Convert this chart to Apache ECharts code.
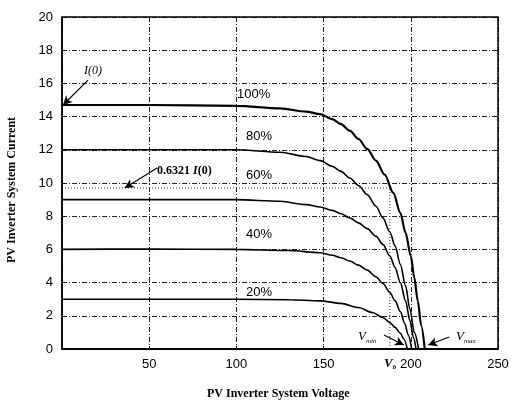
<!DOCTYPE html>
<html><head><meta charset="utf-8">
<script src="https://cdn.jsdelivr.net/npm/echarts@6/dist/echarts.min.js"></script>
<style>html,body{margin:0;padding:0;background:#fff}#c{width:512px;height:404px}</style>
</head><body><div id="c"></div>
<script>
const xTicks = [0, 50, 100, 150, 200, 250];
const yTicks = [0, 2, 4, 6, 8, 10, 12, 14, 16, 18, 20];
const curveNames = ['100%', '80%', '60%', '40%', '20%'];
const curve100 = [[0,14.7],[50,14.7],[100,14.65],[125,14.5],[140,14.3],[148,14.15],[155,13.85],[160,13.55],[165,13.15],[170,12.65],[175,12.05],[180,11.35],[185,10.5],[190,9.4],[194,8.2],[197,7.0],[200,5.6],[202,4.3],[204,2.9],[206,1.4],[208,0]];
const curve80 = [[0,12.0],[50,12.0],[100,12.0],[125,11.85],[140,11.6],[148,11.35],[155,11.0],[160,10.7],[165,10.3],[170,9.85],[175,9.3],[180,8.6],[184,7.9],[188,7.05],[191,6.2],[194,5.1],[197,3.8],[199.5,2.4],[202,1.0],[204.5,0]];
const curve60 = [[0,9.0],[50,9.0],[100,9.0],[125,8.9],[140,8.7],[148,8.55],[155,8.35],[160,8.15],[165,7.9],[170,7.6],[175,7.25],[180,6.8],[184,6.3],[188,5.6],[191,4.9],[194,4.0],[197,2.9],[199.5,1.7],[201.5,0.7],[203,0]];
const curve40 = [[0,6.0],[50,6.02],[100,6.0],[130,5.93],[148,5.8],[155,5.65],[160,5.5],[165,5.3],[170,5.05],[175,4.75],[180,4.35],[184,3.95],[188,3.4],[191,2.9],[194,2.25],[196.5,1.55],[198.5,0.85],[200.5,0]];
const curve20 = [[0,3.0],[50,3.0],[100,3.0],[130,2.97],[148,2.9],[160,2.75],[170,2.5],[178,2.2],[184,1.9],[188,1.6],[191,1.3],[194,0.95],[196,0.6],[198,0]];
const tauCurrent = 9.7;   // 0.6321 I(0) level
const vb = 188;           // V_b
const arrowI0 = [[14.9,16.2],[0.6,14.7]];
const arrowTau = [[54.5,10.9],[36,9.7]];
const arrowVmin = [[184.6,0.84],[196,0.24]];
const arrowVmax = [[222,0.72],[210,0.24]];

const curves = [curve100, curve80, curve60, curve40, curve20];
const widths = [2.2, 1.6, 1.6, 1.6, 1.6];

const chart = echarts.init(document.getElementById('c'), null, {renderer:'canvas'});
const series = curves.map((d,i)=>({
  name: curveNames[i], type:'line', data:d, showSymbol:false, symbol:'none',
  smooth:0.3, smoothMonotone:'x',
  lineStyle:{color:'#000', width:widths[i]}, z:5, silent:true
}));
function arrow(c){ return {type:'line', data:[], markLine:{silent:true, symbol:['none','arrow'], symbolSize:[7,9],
  lineStyle:{color:'#000', width:1.2, type:'solid'}, label:{show:false},
  data:[[{coord:c[0]},{coord:c[1]}]]}}; }
series.push({type:'line', data:[[0,tauCurrent],[vb,tauCurrent]], showSymbol:false, symbol:'none',
  lineStyle:{color:'#333', width:1, type:[1,2]}, z:3});
series.push({type:'line', data:[[vb,0],[vb,tauCurrent]], showSymbol:false, symbol:'none',
  lineStyle:{color:'#333', width:1, type:[1,2]}, z:3});
series.push(arrow(arrowI0), arrow(arrowTau), arrow(arrowVmin), arrow(arrowVmax));

const gridDash = [5,2,1,2];
chart.setOption({
  animation:false,
  grid:{left:62, right:14, top:17, bottom:55},
  xAxis:{type:'value', min:0, max:250, interval:50,
    axisLine:{show:true, onZero:false, lineStyle:{color:'#000', width:2}},
    axisTick:{show:true, inside:true, length:3, lineStyle:{color:'#000'}},
    axisLabel:{color:'#000', fontFamily:'Liberation Sans', fontSize:13, margin:9,
      formatter:v=> v===0 ? '' : String(v)},
    splitLine:{show:true, lineStyle:{color:'#222', width:1, type:gridDash}}},
  yAxis:{type:'value', min:0, max:20, interval:2,
    axisLine:{show:true, lineStyle:{color:'#000', width:1.5}},
    axisTick:{show:true, inside:true, length:3, lineStyle:{color:'#000'}},
    axisLabel:{color:'#000', fontFamily:'Liberation Sans', fontSize:13, margin:9},
    splitLine:{show:true, lineStyle:{color:'#222', width:1, type:gridDash}}},
  series:series,
  graphic:[
    {type:'rect', shape:{x:62, y:17, width:436, height:332}, style:{fill:'none', stroke:'#000', lineWidth:1.5}, silent:true, z:10},
    {type:'text', left:207, top:388, style:{text:'PV Inverter System Voltage', font:'bold 12px "Liberation Serif"', fill:'#000'}},
    {type:'text', x:12, y:263, rotation:Math.PI/2, style:{text:'PV Inverter System Current', font:'bold 12px "Liberation Serif"', fill:'#000', textVerticalAlign:'middle'}},
    {type:'text', x:237, y:88, style:{text:'100%', font:'13px "Liberation Sans"', fill:'#000'}},
    {type:'text', x:246, y:130, style:{text:'80%', font:'13px "Liberation Sans"', fill:'#000'}},
    {type:'text', x:246, y:169, style:{text:'60%', font:'13px "Liberation Sans"', fill:'#000'}},
    {type:'text', x:246, y:228, style:{text:'40%', font:'13px "Liberation Sans"', fill:'#000'}},
    {type:'text', x:246, y:286, style:{text:'20%', font:'13px "Liberation Sans"', fill:'#000'}},
    {type:'text', x:84, y:65, style:{text:'I(0)', font:'italic 12px "Liberation Serif"', fill:'#000'}},
    {type:'text', x:157, y:165, style:{text:'{a|0.6321 }{b|I}{a|(0)}', fill:'#000',
      rich:{a:{font:'bold 12px "Liberation Serif"', fill:'#000'}, b:{font:'bold italic 12px "Liberation Serif"', fill:'#000'}}}},
    {type:'text', x:358, y:328, style:{text:'{v|V}{s|min}', fill:'#000',
      rich:{v:{font:'italic 13px "Liberation Serif"', fill:'#000'}, s:{font:'italic 7px "Liberation Serif"', fill:'#000', padding:[10,0,0,0]}}}},
    {type:'text', x:456, y:328, style:{text:'{v|V}{s|max}', fill:'#000',
      rich:{v:{font:'italic 13px "Liberation Serif"', fill:'#000'}, s:{font:'italic 7px "Liberation Serif"', fill:'#000', padding:[10,0,0,0]}}}},
    {type:'text', x:384, y:356, style:{text:'{v|V}{s|b}', fill:'#000',
      rich:{v:{font:'bold italic 13px "Liberation Serif"', fill:'#000'}, s:{font:'bold italic 7px "Liberation Serif"', fill:'#000', padding:[8,0,0,0]}}}}
  ]
});
</script></body></html>
